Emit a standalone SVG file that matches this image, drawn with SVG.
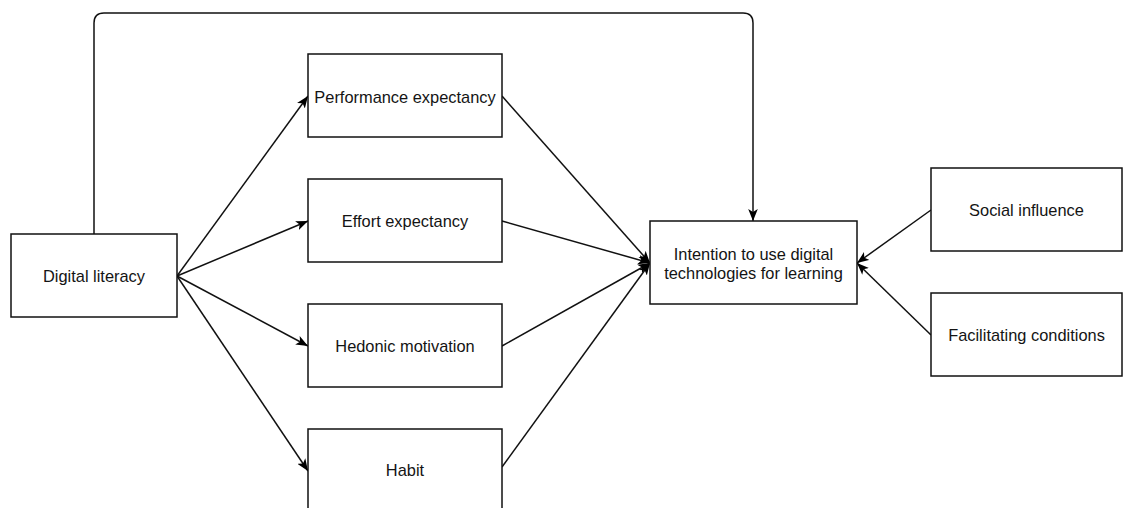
<svg xmlns="http://www.w3.org/2000/svg" width="1125" height="508" viewBox="0 0 1125 508">
  <style>
    .box { fill: #ffffff; stroke: #111111; stroke-width: 1.5; }
    .lbl { font-family: "Liberation Sans", Arial, Helvetica, sans-serif; font-size: 16.4px; fill: #141414; text-anchor: middle; }
    .edge { fill: none; stroke: #111111; stroke-width: 1.5; marker-end: url(#arrow); }
  </style>
  <defs>
    <marker id="arrow" viewBox="0 0 10 8" refX="10" refY="4" markerWidth="12" markerHeight="10" markerUnits="userSpaceOnUse" orient="auto">
      <path d="M0,0 L10,4 L0,8 L2.5,4 Z" fill="#000000"/>
    </marker>
  </defs>
  <rect width="1125" height="508" fill="#ffffff"/>

  <!-- connectors -->
  <g id="connectors">
    <path class="edge" d="M94,234 L94,23 Q94,13 104,13 L743,13 Q753,13 753,23 L753,221"/>
    <path class="edge" d="M177,276 L308,96"/>
    <path class="edge" d="M177,276 L308,221"/>
    <path class="edge" d="M177,276 L308,346"/>
    <path class="edge" d="M177,276 L308,471"/>
    <path class="edge" d="M502,96 L650,263"/>
    <path class="edge" d="M502,221 L650,263"/>
    <path class="edge" d="M502,346 L650,263"/>
    <path class="edge" d="M502,467 L650,263"/>
    <path class="edge" d="M931,210 L857,263"/>
    <path class="edge" d="M931,335 L857,263"/>
  </g>

  <!-- nodes -->
  <g id="digital-literacy">
    <rect class="box" x="11" y="234" width="166" height="83"/>
    <text class="lbl" x="94" y="281.5">Digital literacy</text>
  </g>
  <g id="performance-expectancy">
    <rect class="box" x="308" y="54" width="194" height="83"/>
    <text class="lbl" x="405" y="102.5">Performance expectancy</text>
  </g>
  <g id="effort-expectancy">
    <rect class="box" x="308" y="179" width="194" height="83"/>
    <text class="lbl" x="405" y="227">Effort expectancy</text>
  </g>
  <g id="hedonic-motivation">
    <rect class="box" x="308" y="304" width="194" height="83"/>
    <text class="lbl" x="405" y="351.5">Hedonic motivation</text>
  </g>
  <g id="habit">
    <rect class="box" x="308" y="429" width="194" height="90"/>
    <text class="lbl" x="405" y="476">Habit</text>
  </g>
  <g id="intention">
    <rect class="box" x="650" y="221" width="207" height="83"/>
    <text class="lbl" x="753.5" y="260">Intention to use digital</text>
    <text class="lbl" x="753.5" y="279">technologies for learning</text>
  </g>
  <g id="social-influence">
    <rect class="box" x="931" y="168" width="191" height="83"/>
    <text class="lbl" x="1026.5" y="216">Social influence</text>
  </g>
  <g id="facilitating-conditions">
    <rect class="box" x="931" y="293" width="191" height="83"/>
    <text class="lbl" x="1026.5" y="340.5">Facilitating conditions</text>
  </g>
</svg>
